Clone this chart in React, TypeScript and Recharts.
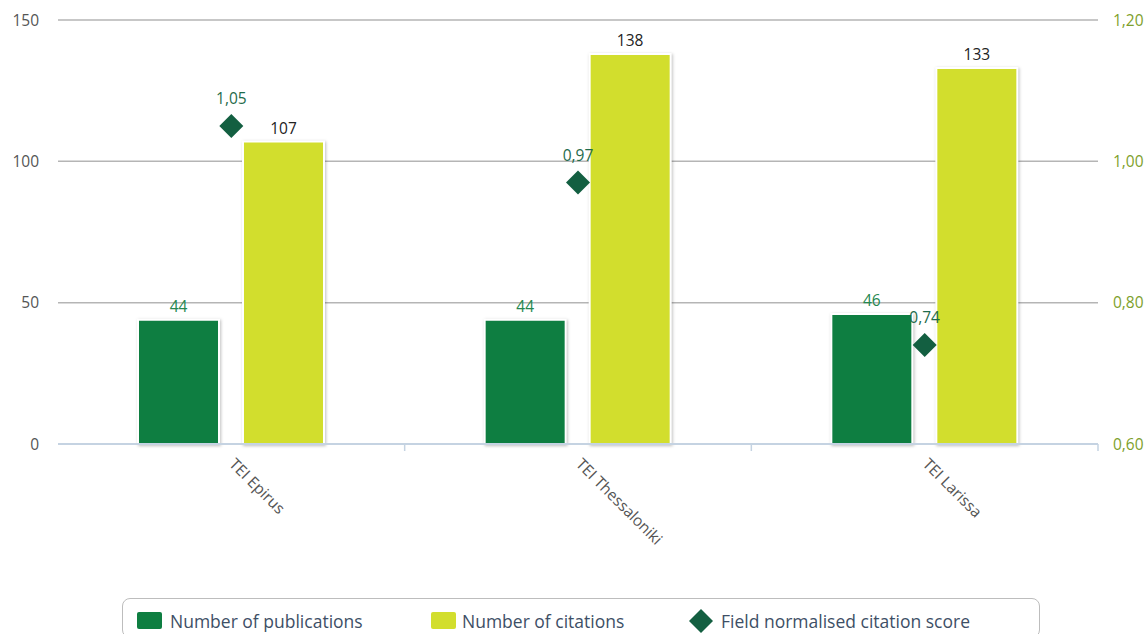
import {
  ComposedChart, Bar, Line, XAxis, YAxis, CartesianGrid, Legend, LabelList,
} from 'recharts'

const categories = ['TEI Epirus', 'TEI Thessaloniki', 'TEI Larissa']
const publications = [44, 44, 46]
const citations = [107, 138, 133]
const fncs = [1.05, 0.97, 0.74]

const leftTicks = [0, 50, 100, 150]
const gridValues = [50, 100, 150]
const rightTicks = [0.6, 0.8, 1.0, 1.2]
const edgeTicks = [1, 2, 3]

const FONT = '"Open Sans", sans-serif'
const GREEN = '#0e7e41'
const YELLOW = '#d2de2d'
const DIAMOND = '#135f41'

const comma = (v: number) => v.toFixed(2).replace('.', ',')

const data = categories.map((name, i) => ({
  name,
  idx: i + 0.5,
  publications: publications[i],
  citations: citations[i],
  fncs: fncs[i],
}))

function Diamond({ cx, cy, size = 12 }: any) {
  if (cx == null || cy == null) return null
  return (
    <polygon
      points={`${cx},${cy - size} ${cx + size},${cy} ${cx},${cy + size} ${cx - size},${cy}`}
      fill={DIAMOND}
    />
  )
}

function CategoryTick({ x, y, payload }: any) {
  return (
    <text
      x={x - 3}
      y={y + 12}
      transform={`rotate(45, ${x - 3}, ${y + 12})`}
      textAnchor="start"
      fill="#555"
      fontSize={15.5}
      fontFamily={FONT}
    >
      {payload.value}
    </text>
  )
}

function LegendBox() {
  const text = { position: 'absolute' as const, top: 10, fontSize: 17.5, color: '#3e4f66', fontFamily: FONT, lineHeight: '24px' }
  return (
    <div style={{ position: 'relative', width: 918, height: 40, border: '1px solid #bdbdbd', borderRadius: 8, boxSizing: 'border-box' }}>
      <div style={{ position: 'absolute', left: 14, top: 13, width: 25, height: 17, background: GREEN, borderRadius: 2 }} />
      <div style={{ ...text, left: 47 }}>Number of publications</div>
      <div style={{ position: 'absolute', left: 308, top: 13, width: 25, height: 17, background: YELLOW, borderRadius: 2 }} />
      <div style={{ ...text, left: 339 }}>Number of citations</div>
      <svg style={{ position: 'absolute', left: 565, top: 9 }} width={26} height={26}>
        <Diamond cx={13} cy={13} size={12} />
      </svg>
      <div style={{ ...text, left: 598 }}>Field normalised citation score</div>
    </div>
  )
}

export default function App() {
  return (
    <div style={{ position: 'absolute', left: 0, top: 0, width: 1145, height: 634, overflow: 'hidden', background: '#fff' }}>
      <ComposedChart
        width={1145}
        height={634}
        data={data}
        margin={{ top: 20, right: 0, bottom: 0, left: 0 }}
        barSize={81}
        barGap={24}
      >
        <CartesianGrid
          horizontal
          vertical={false}
          stroke="#b5b5b5"
          strokeWidth={1.5}
          yAxisId="left"
          horizontalValues={gridValues}
        />
        <XAxis
          xAxisId={0}
          type="number"
          dataKey="idx"
          domain={[0, 3]}
          ticks={edgeTicks}
          height={1}
          axisLine={{ stroke: '#c5d3e2', strokeWidth: 2 }}
          tickLine={{ stroke: '#c5d3e2', strokeWidth: 1.5 }}
          tickSize={7}
          tickFormatter={() => ''}
        />
        <XAxis
          xAxisId={1}
          dataKey="name"
          height={149}
          axisLine={false}
          tickLine={false}
          tick={<CategoryTick />}
          interval={0}
        />
        <YAxis
          yAxisId="left"
          width={58}
          domain={[0, 150]}
          ticks={leftTicks}
          axisLine={false}
          tickLine={false}
          tickSize={0}
          tickMargin={19}
          tick={{ fill: '#555', fontSize: 15.5, fontFamily: FONT }}
        />
        <YAxis
          yAxisId="right"
          orientation="right"
          width={47}
          domain={[0.6, 1.2]}
          ticks={rightTicks}
          tickFormatter={comma}
          axisLine={false}
          tickLine={false}
          tickSize={0}
          tickMargin={15}
          tick={{ fill: '#7e9f2c', fontSize: 15.5, fontFamily: FONT, textAnchor: 'start' }}
        />
        <Bar
          xAxisId={1}
          yAxisId="left"
          dataKey="publications"
          fill={GREEN}
          stroke="#fff"
          strokeWidth={2}
          style={{ filter: 'drop-shadow(1px 1px 1.5px rgba(0,0,0,0.25))' }}
          isAnimationActive={false}
        >
          <LabelList dataKey="publications" position="top" offset={8} fill="#25874f" fontSize={15.5} fontFamily={FONT} />
        </Bar>
        <Bar
          xAxisId={1}
          yAxisId="left"
          dataKey="citations"
          fill={YELLOW}
          stroke="#fff"
          strokeWidth={2}
          style={{ filter: 'drop-shadow(1px 1px 1.5px rgba(0,0,0,0.25))' }}
          isAnimationActive={false}
        >
          <LabelList dataKey="citations" position="top" offset={8} fill="#222" fontSize={15.5} fontFamily={FONT} />
        </Bar>
        <Line
          xAxisId={1}
          yAxisId="right"
          dataKey="fncs"
          stroke="none"
          dot={<Diamond />}
          activeDot={false}
          isAnimationActive={false}
        >
          <LabelList dataKey="fncs" position="top" offset={22} fill="#1f6b4b" fontSize={15.5} fontFamily={FONT} formatter={(v: any) => comma(Number(v))} />
        </Line>
        <Legend
          content={<LegendBox />}
          verticalAlign="bottom"
          wrapperStyle={{ top: 598, left: 122, bottom: 'auto', width: 918 }}
        />
      </ComposedChart>
    </div>
  )
}
